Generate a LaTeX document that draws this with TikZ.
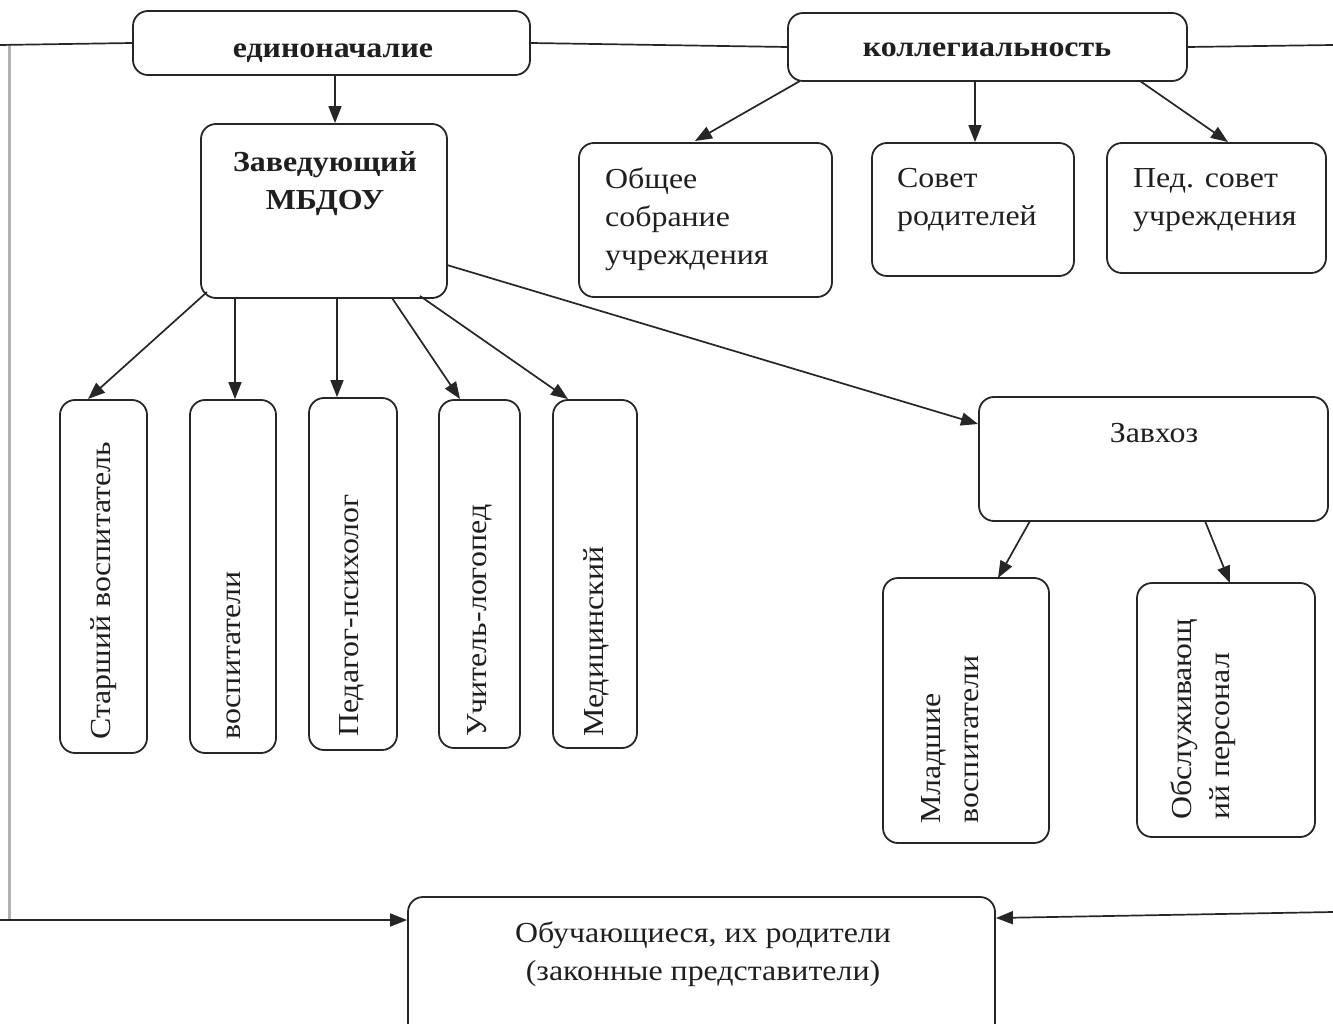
\documentclass[tikz,border=0pt]{standalone}
\usepackage{fontspec}
\setmainfont{Liberation Serif}[FakeStretch=1.1]
\usetikzlibrary{arrows.meta}
\begin{document}
\begin{tikzpicture}[x=1pt,y=-1pt,
  box/.style={draw=black!85, rounded corners=15pt, line width=1.8pt, inner sep=0pt},
  txt/.style={font=\fontsize{29}{38}\selectfont, inner sep=0pt, text=black!88},
  btxt/.style={font=\fontsize{29}{38}\selectfont\bfseries, inner sep=0pt, text=black!88},
  conn/.style={line width=1.7pt, draw=black!85},
  arr/.style={conn, -{Triangle[length=17pt,width=13pt]}}]
\useasboundingbox (0,0) rectangle (1333,1024);
% boxes (text nodes anchored at baseline of last line)
\node[box, minimum width=397pt, minimum height=64pt] (ed) at (331.5,43) {};
\node[btxt, anchor=base] (edt) at (333,58) {единоначалие};
\node[box, minimum width=399pt, minimum height=68pt] (kol) at (987.5,47) {};
\node[btxt, anchor=base] (kolt) at (987,57) {коллегиальность};
\node[box, minimum width=246pt, minimum height=174pt] (zav) at (324,211) {};
\node[btxt, align=center, anchor=base] (zavt) at (325,210) {Заведующий\\МБДОУ};
\node[box, minimum width=253pt, minimum height=154pt] (obs) at (705.5,220) {};
\node[txt, align=left, anchor=base west] (obst) at (605,265) {Общее\\собрание\\учреждения};
\node[box, minimum width=202pt, minimum height=133pt] (sov) at (973,209.5) {};
\node[txt, align=left, anchor=base west] (sovt) at (897,226) {Совет\\родителей};
\node[box, minimum width=219pt, minimum height=130pt] (ped) at (1216.5,208) {};
\node[txt, align=left, anchor=base west] (pedt) at (1133,226) {Пед. совет\\учреждения};
% vertical boxes
\node[box, minimum width=87pt, minimum height=353pt] (st) at (103.5,576.5) {};
\node[txt, rotate=90, anchor=west] (stt) at (104,740) {Старший воспитатель};
\node[box, minimum width=86pt, minimum height=353pt] (vo) at (233,576.5) {};
\node[txt, rotate=90, anchor=west] (vot) at (234,740) {воспитатели};
\node[box, minimum width=88pt, minimum height=352pt] (pp) at (353,574) {};
\node[txt, rotate=90, anchor=west] (ppt) at (352,737) {Педагог-психолог};
\node[box, minimum width=81pt, minimum height=348pt] (ul) at (479.5,574) {};
\node[txt, rotate=90, anchor=west] (ult) at (480,737) {Учитель-логопед};
\node[box, minimum width=84pt, minimum height=348pt] (med) at (595,574) {};
\node[txt, rotate=90, anchor=west] (medt) at (596,737) {Медицинский};
% right side
\node[box, minimum width=349pt, minimum height=124pt] (zh) at (1153.5,459) {};
\node[txt, anchor=base] (zht) at (1154,442) {Завхоз};
\node[box, minimum width=166pt, minimum height=265pt] (ml) at (966,710.5) {};
\node[txt, rotate=90, anchor=west, align=left] (mlt) at (950,824) {Младшие\\воспитатели};
\node[box, minimum width=178pt, minimum height=254pt] (ob) at (1226,710) {};
\node[txt, rotate=90, anchor=west, align=left] (obt) at (1203,820) {Обслуживающ\\ий персонал};
% bottom
\node[box, minimum width=587pt, minimum height=150pt] (uch) at (701.5,972) {};
\node[txt, align=center, anchor=base] (ucht) at (703,980) {Обучающиеся, их родители\\(законные представители)};
% frame lines
\coordinate (tl) at (0,45);
\coordinate (tr) at (1333,45);
\coordinate (bl) at (0,920);
\coordinate (br) at (1333,912);
\coordinate (vt) at (9,45);
\coordinate (vb) at (9,920);
\draw[line width=3pt, draw=black!30] (vt) -- (vb);
\draw[conn] (tl) -- (ed.west);
\draw[conn] (ed.east) -- (kol.west);
\draw[conn] (kol.east) -- (tr);
\draw[arr] (bl) -- (uch.west |- bl);
\draw[arr] (br) -- (uch.east |- 0,918);
% arrows
\draw[arr] (ed.south -| 335,0) -- (zav.north -| 335,0);
\draw[arr] (800,81) -- (695,141);
\draw[arr] (kol.south -| 975,0) -- (sov.north -| 975,0);
\draw[arr] (1140,81) -- (1228,142);
\draw[arr] (207,292) -- (88,399);
\draw[arr] (zav.south -| 235,0) -- (vo.north -| 235,0);
\draw[arr] (zav.south -| 337,0) -- (pp.north -| 337,0);
\draw[arr] (392,298) -- (460,399);
\draw[arr] (420,296) -- (568,399);
\draw[arr] (447,265) -- (978,424);
\draw[arr] (1030,521) -- (998,578);
\draw[arr] (1205,521) -- (1230,583);
\end{tikzpicture}
\end{document}
